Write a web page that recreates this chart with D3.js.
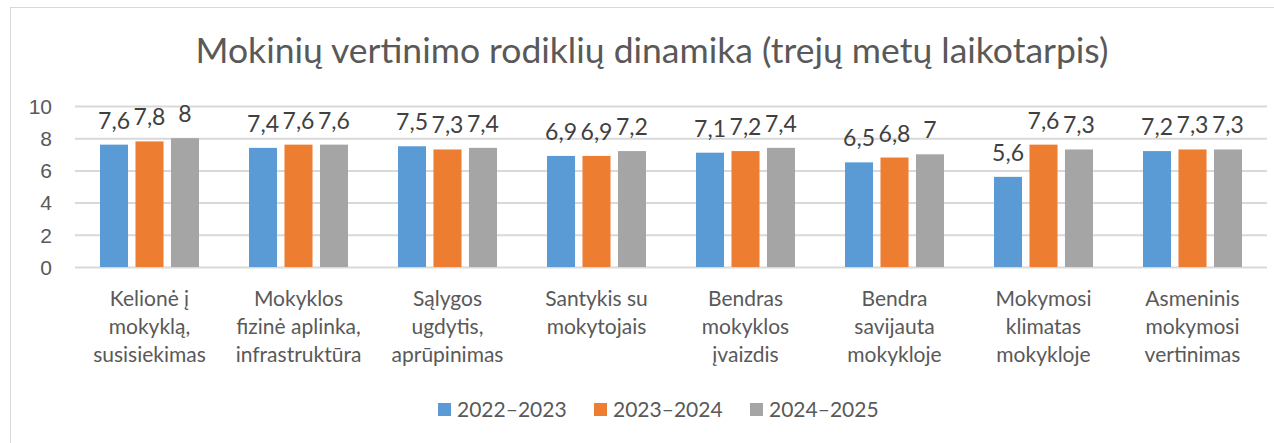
<!DOCTYPE html>
<html lang="lt">
<head>
<meta charset="UTF-8">
<title>Mokinių vertinimo rodiklių dinamika</title>
<script src="https://d3js.org/d3.v7.min.js"></script>
<style>
    body { margin: 0; background: #fff; }
    svg { display: block; font-family: Lato, "Open Sans", sans-serif; }
    .tick text { fill: #595959; }
</style>
</head>
<body>
<svg id="chart"></svg>
<script>
// data
const categories = [
    ["Kelionė į", "mokyklą,", "susisiekimas"],
    ["Mokyklos", "fizinė aplinka,", "infrastruktūra"],
    ["Sąlygos", "ugdytis,", "aprūpinimas"],
    ["Santykis su", "mokytojais"],
    ["Bendras", "mokyklos", "įvaizdis"],
    ["Bendra", "savijauta", "mokykloje"],
    ["Mokymosi", "klimatas", "mokykloje"],
    ["Asmeninis", "mokymosi", "vertinimas"]
];
const seriesNames = ["2022–2023", "2023–2024", "2024–2025"];
const values2022 = [7.6, 7.4, 7.5, 6.9, 7.1, 6.5, 5.6, 7.2];
const values2023 = [7.8, 7.6, 7.3, 6.9, 7.2, 6.8, 7.6, 7.3];
const values2024 = [8, 7.6, 7.4, 7.2, 7.4, 7, 7.3, 7.3];
const yTicks = [0, 2, 4, 6, 8, 10];
const colors = ["#5B9BD5", "#ED7D31", "#A5A5A5"];

const allValues = [values2022, values2023, values2024];
const W = 1274, H = 443;
const svg = d3.select("#chart").attr("width", W).attr("height", H);

// outer chart frame
svg.append("rect")
    .attr("x", 10.5).attr("y", 7.5)
    .attr("width", 1400).attr("height", 600)
    .attr("fill", "none").attr("stroke", "#D9D9D9");

svg.append("text")
    .attr("x", 652).attr("y", 63)
    .attr("text-anchor", "middle")
    .attr("fill", "#595959")
    .style("font-size", "35.5px")
    .text("Mokinių vertinimo rodiklių dinamika (trejų metų laikotarpis)");

const plotLeft = 75, plotRight = 1267, plotTop = 106, plotBottom = 267;

const x = d3.scaleBand()
    .domain(d3.range(categories.length))
    .range([plotLeft, plotRight]);

const xInner = d3.scaleBand()
    .domain(d3.range(seriesNames.length))
    .range([0, 99])
    .paddingInner(0.21);

const y = d3.scaleLinear().domain([0, 10]).range([plotBottom, plotTop]);

// gridlines + y labels
const yAxis = svg.append("g")
    .attr("transform", `translate(${plotLeft},0)`)
    .call(d3.axisLeft(y).tickValues(yTicks).tickSize(-(plotRight - plotLeft)).tickPadding(23));
yAxis.select(".domain").remove();
yAxis.selectAll(".tick line").attr("stroke", "#D9D9D9").attr("stroke-width", 2);
yAxis.selectAll(".tick text").style("font-size", "21px").attr("dy", "0.35em");

// bars
const groups = svg.append("g").selectAll("g")
    .data(categories)
    .join("g")
    .attr("transform", (d, i) => `translate(${x(i) + (x.bandwidth() - 99) / 2},0)`);

groups.each(function(c, i) {
    const g = d3.select(this);
    allValues.forEach((vals, s) => {
        g.append("rect")
            .attr("x", xInner(s))
            .attr("y", y(vals[i]))
            .attr("width", xInner.bandwidth())
            .attr("height", y(0) - y(vals[i]))
            .attr("fill", colors[s]);
        g.append("text")
            .attr("x", xInner(s) + xInner.bandwidth() / 2)
            .attr("y", y(vals[i]) - 16)
            .attr("text-anchor", "middle")
            .attr("fill", "#404040")
            .style("font-size", "23px")
            .text(String(vals[i]).replace(".", ","));
    });
    // category label
    const t = g.append("text")
        .attr("x", 99 / 2)
        .attr("y", 306)
        .attr("text-anchor", "middle")
        .attr("fill", "#595959")
        .style("font-size", "21px");
    c.forEach((line, k) => {
        t.append("tspan")
            .attr("x", 99 / 2)
            .attr("dy", k === 0 ? 0 : 28)
            .text(line);
    });
});

// legend
const legendX = [438, 594, 750];
const legend = svg.append("g");
seriesNames.forEach((name, s) => {
    legend.append("rect")
        .attr("x", legendX[s]).attr("y", 403)
        .attr("width", 13).attr("height", 13)
        .attr("fill", colors[s]);
    legend.append("text")
        .attr("x", legendX[s] + 19).attr("y", 417)
        .attr("fill", "#595959")
        .style("font-size", "21px")
        .text(name);
});
</script>
</body>
</html>
